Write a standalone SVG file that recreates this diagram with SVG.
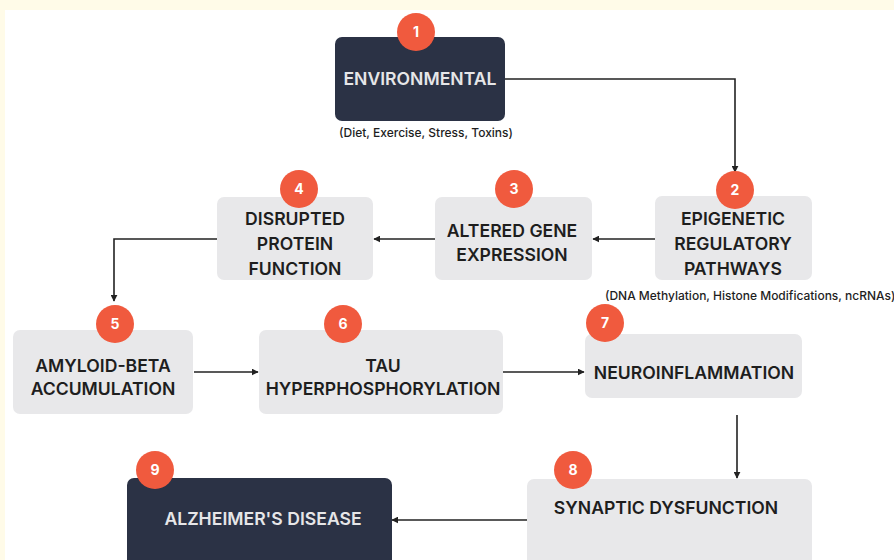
<svg xmlns="http://www.w3.org/2000/svg" width="894" height="560" viewBox="0 0 894 560">
<defs>
<style>
.bg{fill:#fffbe8}
.panel{fill:#ffffff}
.dark{fill:#2b3245}
.light{fill:#e8e8ea}
.badge{fill:#f05a3e}
.num{font-family:Inter,"Liberation Sans",sans-serif;font-weight:700;font-size:14px;fill:#ffffff;text-anchor:middle}
.lbl{font-family:Inter,"Liberation Sans",sans-serif;font-weight:600;font-size:17.6px;fill:#1e1e1e;text-anchor:middle}
.lblw{font-family:Inter,"Liberation Sans",sans-serif;font-weight:600;font-size:17.6px;fill:#e6e6e8;text-anchor:middle}
.sub{font-family:Inter,"Liberation Sans",sans-serif;font-weight:500;font-size:12px;fill:#1e1e1e}
.con{fill:none;stroke:#222;stroke-width:1.6}
</style>
<marker id="ah" viewBox="0 0 10 10" refX="9" refY="5" markerWidth="7" markerHeight="7" orient="auto" markerUnits="userSpaceOnUse">
<path d="M0,0 L10,5 L0,10 Z" fill="#222"/>
</marker>
</defs>
<rect class="bg" x="0" y="0" width="894" height="560"/>
<rect class="panel" x="5" y="10" width="889" height="550"/>

<g id="connectors">
<path class="con" d="M505,79 H735 V172" marker-end="url(#ah)"/>
<path class="con" d="M655,239 H593" marker-end="url(#ah)"/>
<path class="con" d="M435,239 H374" marker-end="url(#ah)"/>
<path class="con" d="M217,239 H114 V301" marker-end="url(#ah)"/>
<path class="con" d="M194,372 H258" marker-end="url(#ah)"/>
<path class="con" d="M503,372 H584" marker-end="url(#ah)"/>
<path class="con" d="M737,415 V478" marker-end="url(#ah)"/>
<path class="con" d="M527,520 H392" marker-end="url(#ah)"/>
</g>

<g id="node1">
<rect class="dark" x="335" y="37" width="170" height="84" rx="7"/>
<circle class="badge" cx="416" cy="32" r="19"/>
<text class="num" x="416" y="37">1</text>
<text class="lblw" x="420" y="85">ENVIRONMENTAL</text>
<text class="sub" x="426" y="137" text-anchor="middle">(Diet, Exercise, Stress, Toxins)</text>
</g>

<g id="node2">
<rect class="light" x="655" y="196" width="157" height="84" rx="7"/>
<circle class="badge" cx="735" cy="190" r="19"/>
<text class="num" x="735" y="195">2</text>
<text class="lbl" x="733" y="225">EPIGENETIC</text>
<text class="lbl" x="733" y="250">REGULATORY</text>
<text class="lbl" x="733" y="275">PATHWAYS</text>
<text class="sub" x="605" y="300">(DNA Methylation, Histone Modifications, ncRNAs)</text>
</g>

<g id="node3">
<rect class="light" x="435" y="197" width="157" height="83" rx="7"/>
<circle class="badge" cx="514" cy="189" r="19"/>
<text class="num" x="514" y="194">3</text>
<text class="lbl" x="512" y="237">ALTERED GENE</text>
<text class="lbl" x="512" y="261">EXPRESSION</text>
</g>

<g id="node4">
<rect class="light" x="217" y="197" width="156" height="83" rx="7"/>
<circle class="badge" cx="299" cy="189" r="19"/>
<text class="num" x="299" y="194">4</text>
<text class="lbl" x="295" y="225">DISRUPTED</text>
<text class="lbl" x="295" y="250">PROTEIN</text>
<text class="lbl" x="295" y="275">FUNCTION</text>
</g>

<g id="node5">
<rect class="light" x="13" y="330" width="180" height="84" rx="7"/>
<circle class="badge" cx="115" cy="324" r="19"/>
<text class="num" x="115" y="329">5</text>
<text class="lbl" x="103" y="372">AMYLOID-BETA</text>
<text class="lbl" x="103" y="395">ACCUMULATION</text>
</g>

<g id="node6">
<rect class="light" x="259" y="330" width="244" height="84" rx="7"/>
<circle class="badge" cx="343" cy="324" r="19"/>
<text class="num" x="343" y="329">6</text>
<text class="lbl" x="383" y="372">TAU</text>
<text class="lbl" x="383" y="395">HYPERPHOSPHORYLATION</text>
</g>

<g id="node7">
<rect class="light" x="585" y="334" width="217" height="64" rx="7"/>
<circle class="badge" cx="605" cy="323" r="19"/>
<text class="num" x="605" y="328">7</text>
<text class="lbl" x="694" y="379">NEUROINFLAMMATION</text>
</g>

<g id="node8">
<rect class="light" x="527" y="479" width="285" height="90" rx="7"/>
<circle class="badge" cx="573" cy="470" r="19"/>
<text class="num" x="573" y="475">8</text>
<text class="lbl" x="666" y="514">SYNAPTIC DYSFUNCTION</text>
</g>

<g id="node9">
<rect class="dark" x="127" y="478" width="265" height="92" rx="7"/>
<circle class="badge" cx="155" cy="470" r="19"/>
<text class="num" x="155" y="475">9</text>
<text class="lblw" x="263" y="525">ALZHEIMER'S DISEASE</text>
</g>
</svg>
